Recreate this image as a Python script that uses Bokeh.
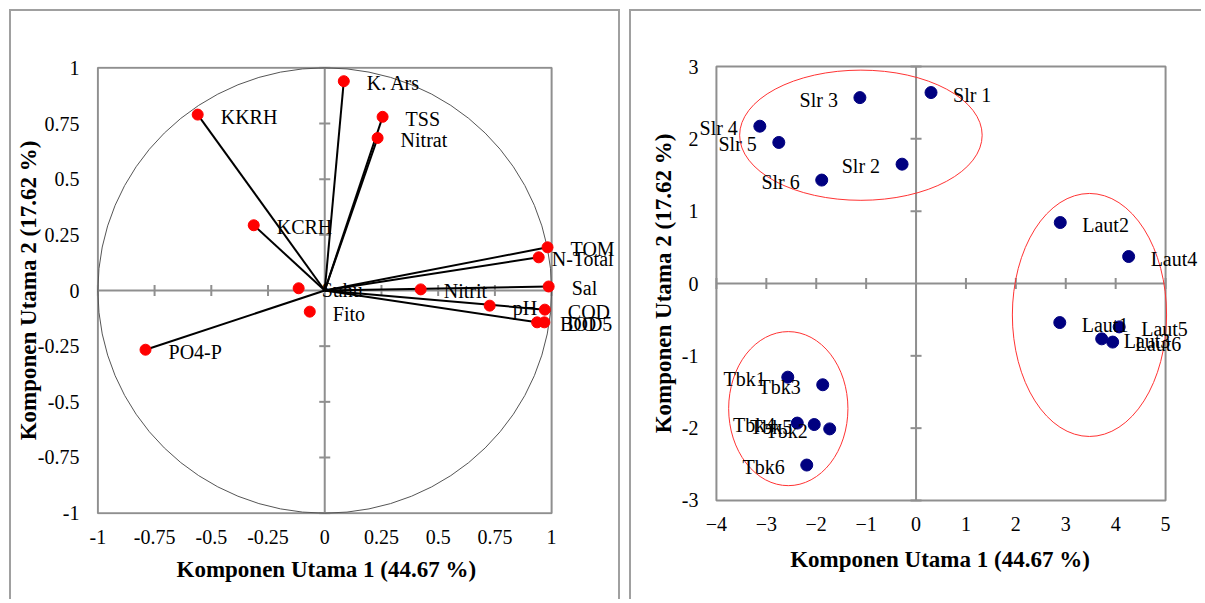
from bokeh.plotting import figure
from bokeh.layouts import row
from bokeh.models import FixedTicker, Span, ColumnDataSource, Label, Title
from bokeh.embed import file_html
from bokeh.resources import INLINE

# ---------------- data: loadings (left panel) ----------------
var_names = ["K. Ars", "TSS", "Nitrat", "KKRH", "KCRH", "TOM", "N-Total", "Sal",
             "Nitrit", "pH", "COD", "BOD5", "DO", "Suhu", "Fito", "PO4-P"]
var_pc1 = [0.084, 0.255, 0.233, -0.56, -0.313, 0.982, 0.943, 0.987,
           0.423, 0.727, 0.97, 0.936, 0.968, -0.115, -0.066, -0.79]
var_pc2 = [0.94, 0.78, 0.685, 0.79, 0.293, 0.194, 0.149, 0.018,
           0.005, -0.068, -0.086, -0.143, -0.143, 0.01, -0.095, -0.266]
var_has_line = [True, True, True, True, True, True, True, True,
                False, False, True, True, False, False, False, True]

left_ticks = [-1, -0.75, -0.5, -0.25, 0, 0.25, 0.5, 0.75, 1]
left_tick_labels = ["-1", "-0.75", "-0.5", "-0.25", "0", "0.25", "0.5", "0.75", "1"]

# ---------------- data: scores (right panel) ----------------
site_names = ["Slr 1", "Slr 2", "Slr 3", "Slr 4", "Slr 5", "Slr 6",
              "Laut1", "Laut2", "Laut3", "Laut4", "Laut5", "Laut6",
              "Tbk1", "Tbk2", "Tbk3", "Tbk4", "Tbk5", "Tbk6"]
site_pc1 = [0.30, -0.28, -1.125, -3.13, -2.75, -1.89,
            2.88, 2.89, 3.72, 4.26, 4.07, 3.94,
            -2.57, -1.73, -1.87, -2.38, -2.04, -2.19]
site_pc2 = [2.64, 1.65, 2.57, 2.175, 1.95, 1.43,
            -0.54, 0.843, -0.765, 0.373, -0.60, -0.81,
            -1.295, -2.01, -1.40, -1.93, -1.95, -2.51]

cluster_cx = [-1.105, 3.475, -2.56]
cluster_cy = [2.05, -0.435, -1.73]
cluster_w = [4.86, 3.09, 2.39]
cluster_h = [1.80, 3.36, 2.13]

right_xticks = [-4, -3, -2, -1, 0, 1, 2, 3, 4, 5]
right_yticks = [-3, -2, -1, 0, 1, 2, 3]

x_title = "Komponen Utama 1 (44.67 %)"
y_title = "Komponen Utama 2 (17.62 %)"

FONT = "Liberation Serif"
GRAY = "#8f8f8f"
BORDER = "2px solid #a0a0a0"
LABEL_DX = 23
LABEL_NUDGE = {"N-Total": -10}   # label placement tweak (px)


def style(p):
    p.toolbar.logo = None
    p.grid.visible = False
    p.frame_align = False
    p.outline_line_color = None
    p.background_fill_color = "white"
    p.border_fill_color = "white"
    for ax in (p.xaxis[0], p.yaxis[0]):
        ax.axis_line_color = None
        ax.major_tick_line_color = None
        ax.minor_tick_line_color = None
        ax.major_tick_out = 0
        ax.major_tick_in = 0
        ax.minor_tick_out = 0
        ax.major_label_text_font = FONT
        ax.major_label_text_font_size = "20px"
        ax.major_label_text_color = "black"
        ax.axis_label_text_font = FONT
        ax.axis_label_text_font_size = "23px"
        ax.axis_label_text_font_style = "bold"
        ax.axis_label_text_color = "black"


def add_label(p, x, y, t, dx, align, dy=-2):
    p.add_layout(Label(x=x, y=y, text=t, x_offset=dx, y_offset=dy,
                       text_font=FONT, text_font_size="20px",
                       text_baseline="middle", text_align=align, text_color="black"))


def draw_box(p, xt, yt):
    p.quad(left=[xt[0]], right=[xt[-1]], bottom=[yt[0]], top=[yt[-1]],
           fill_color=None, line_color=GRAY, line_width=2)
    p.segment(x0=[xt[0]], y0=[0], x1=[xt[-1]], y1=[0], line_color=GRAY, line_width=2)
    p.segment(x0=[0], y0=[yt[0]], x1=[0], y1=[yt[-1]], line_color=GRAY, line_width=2)
    tx = [t for t in xt if t != 0]
    ty = [t for t in yt if t != 0]
    p.scatter(x=tx, y=[0] * len(tx), marker="dash", angle=1.5708, size=11,
              line_color=GRAY, line_width=2)
    p.scatter(x=[0] * len(ty), y=ty, marker="dash", size=11, line_color=GRAY, line_width=2)


def bold_title(text, align, offset, standoff):
    return Title(text=text, align=align, offset=offset, standoff=standoff,
                 text_font=FONT, text_font_size="23px", text_font_style="bold",
                 text_color="black")


# ---------------- left panel ----------------
p1 = figure(width=611, height=590, x_range=(-1.006, 1.308), y_range=(-1.006, 1.006),
            output_backend="svg", toolbar_location=None,
            min_border_left=85, min_border_right=1, min_border_top=55, min_border_bottom=87,
            y_axis_label=y_title)
style(p1)
p1.margin = (9, 0, 0, 9)
p1.styles = {"border-left": BORDER, "border-top": BORDER, "border-right": BORDER}
for ax in (p1.xaxis[0], p1.yaxis[0]):
    ax.ticker = FixedTicker(ticks=left_ticks)
    ax.major_label_overrides = {t: l for t, l in zip(left_ticks, left_tick_labels)}
p1.xaxis[0].major_label_standoff = 15
p1.yaxis[0].major_label_standoff = 17
p1.yaxis[0].axis_label_standoff = -6
p1.add_layout(bold_title(x_title, "left", 80, 17), "below")

draw_box(p1, left_ticks, left_ticks)
p1.ellipse(x=[0], y=[0], width=[2], height=[2], fill_color=None,
           line_color="#555555", line_width=1)

lx = [x for x, f in zip(var_pc1, var_has_line) if f]
ly = [y for y, f in zip(var_pc2, var_has_line) if f]
p1.segment(x0=[0] * len(lx), y0=[0] * len(lx), x1=lx, y1=ly,
           line_color="black", line_width=2)

src1 = ColumnDataSource(dict(x=var_pc1, y=var_pc2, t=var_names))
p1.scatter("x", "y", source=src1, size=11, fill_color="#ff0000", line_color="#ff0000")
for x, y, t in zip(var_pc1, var_pc2, var_names):
    add_label(p1, x, y, t, LABEL_DX + LABEL_NUDGE.get(t, 0), "left")

# ---------------- right panel ----------------
p2 = figure(width=572, height=590, x_range=(-4.80, 5.76), y_range=(-3.18, 3.18),
            output_backend="svg", toolbar_location=None,
            min_border_left=45, min_border_right=0, min_border_top=42, min_border_bottom=88,
            x_axis_label=x_title)
style(p2)
p2.margin = (9, 0, 0, 9)
p2.styles = {"border-left": BORDER, "border-top": BORDER}
p2.yaxis.visible = False
p2.xaxis[0].ticker = FixedTicker(ticks=right_xticks)
p2.xaxis[0].major_label_standoff = 3
p2.xaxis[0].axis_label_standoff = 13
p2.add_layout(bold_title(y_title, "center", 0, 2), "left")

draw_box(p2, right_xticks, right_yticks)
for t in right_yticks:
    add_label(p2, right_xticks[0], t, str(t), -18, "right", 0)

p2.ellipse(x=cluster_cx, y=cluster_cy, width=cluster_w, height=cluster_h,
           fill_color=None, line_color="#ff3333", line_width=1)

src2 = ColumnDataSource(dict(x=site_pc1, y=site_pc2, t=site_names))
p2.scatter("x", "y", source=src2, size=12, fill_color="#000080", line_color="#000080")
for x, y, t in zip(site_pc1, site_pc2, site_names):
    if x > 0:
        add_label(p2, x, y, t, 22, "left")
    else:
        add_label(p2, x, y, t, -22, "right")

layout = row(p1, p2)
open("out.html", "w").write(file_html(layout, INLINE))
